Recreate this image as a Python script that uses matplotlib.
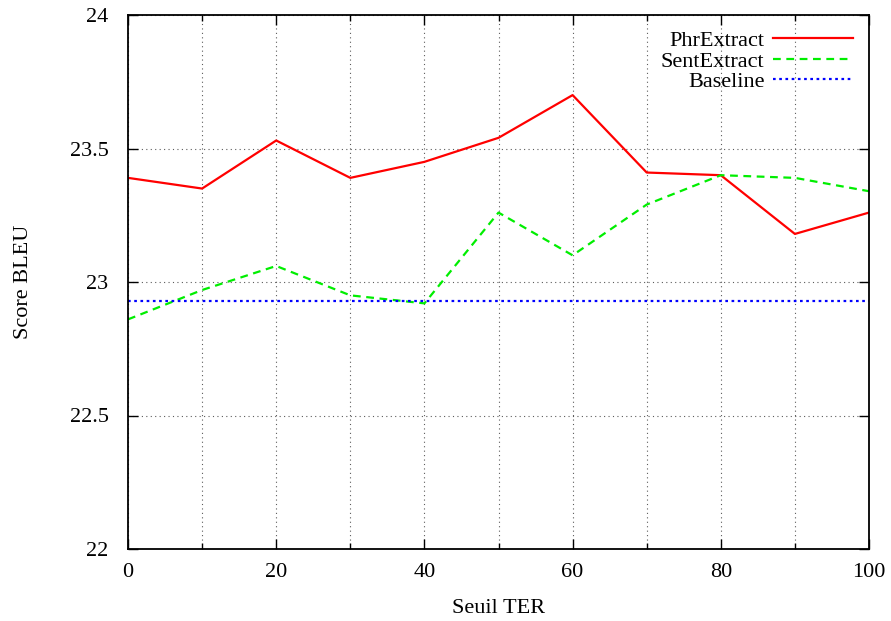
import matplotlib
matplotlib.use('Agg')
import matplotlib.pyplot as plt
from matplotlib.ticker import MultipleLocator

plt.rcParams['font.family'] = ['Liberation Serif', 'DejaVu Serif']

# Data
seuil = [0, 10, 20, 30, 40, 50, 60, 70, 80, 90, 100]
phr_extract = [23.39, 23.35, 23.53, 23.39, 23.45, 23.54, 23.70, 23.41, 23.40, 23.18, 23.26]
sent_extract = [22.86, 22.97, 23.06, 22.95, 22.92, 23.26, 23.10, 23.29, 23.40, 23.39, 23.34]
baseline = 22.93

fig = plt.figure(figsize=(8.91, 6.21), dpi=100)
ax = fig.add_axes([128/891, 1 - 549/621, (869 - 128)/891, (549 - 15)/621])

ax.plot(seuil, phr_extract, color='#ff0000', lw=1.6, ls='-', label='PhrExtract')
ax.plot(seuil, sent_extract, color='#00ee00', lw=1.6, ls=(0, (3.5, 2.5)), label='SentExtract')
ax.plot([seuil[0], seuil[-1]], [baseline, baseline], color='#0000ff', lw=1.6,
        ls=(0, (1.2, 1.6)), label='Baseline')

ax.set_xlim(0, 100)
ax.set_ylim(22, 24)
ax.xaxis.set_major_locator(MultipleLocator(20))
ax.xaxis.set_minor_locator(MultipleLocator(10))
ax.set_yticks([22, 22.5, 23, 23.5, 24])
ax.set_yticklabels(['22', '22.5', '23', '23.5', '24'])

ax.tick_params(which='both', direction='in', top=True, right=True, labelsize=16)
ax.tick_params(axis='x', pad=10)
ax.tick_params(axis='y', pad=14)
ax.tick_params(which='major', length=7, width=1)
ax.tick_params(which='minor', length=4, width=1)
ax.grid(True, which='both', color='#333333', ls=(0, (1, 3)), lw=0.8, alpha=0.8)
for s in ax.spines.values():
    s.set_linewidth(1.3)

ax.set_xlabel('Seuil TER', fontsize=16, labelpad=12)
ax.set_ylabel('Score BLEU', fontsize=16, labelpad=26)

leg = ax.legend(loc='upper right', fontsize=16, frameon=False, markerfirst=False,
                handlelength=3.6, labelspacing=0.0, borderaxespad=0.4,
                handletextpad=0.4, borderpad=0.3)

fig.savefig('out.png', dpi=100)
